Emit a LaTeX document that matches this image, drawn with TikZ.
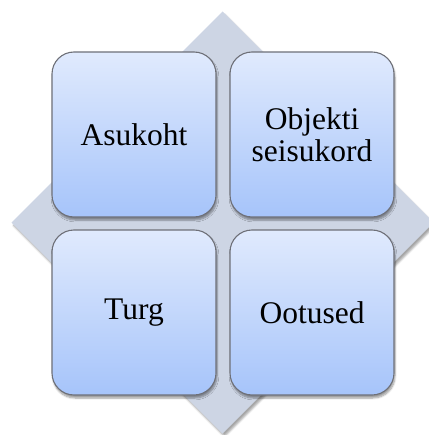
\documentclass[tikz,border=0pt]{standalone}
\usepackage{fontspec}
\setmainfont{Liberation Serif}
\usetikzlibrary{shadows.blur}
\definecolor{diamondfill}{HTML}{CDD5E4}
\definecolor{tiletop}{HTML}{E0EAFD}
\definecolor{tilebottom}{HTML}{A6C4FA}
\definecolor{tileedge}{HTML}{6E7078}
\tikzset{
  tile/.style={rectangle, rounded corners=22pt, minimum width=164pt, minimum height=165pt,
    top color=tiletop, bottom color=tilebottom, draw=tileedge, line width=1.1pt,
    blur shadow={shadow xshift=1pt, shadow yshift=-3pt, shadow blur steps=6, shadow opacity=40},
    font=\fontsize{31.5}{32}\selectfont, align=center, inner sep=0pt},
}
\begin{document}
\begin{tikzpicture}[x=1pt, y=-1pt]
  \useasboundingbox (0,0) rectangle (428,435);
  % background diamond with a soft shadow
  \fill[diamondfill, blur shadow={shadow xshift=2pt, shadow yshift=-3pt, shadow blur steps=6, shadow opacity=35}]
    (222.5,11.5) -- (433.5,222.5) -- (222.5,433.5) -- (11.5,222.5) -- cycle;
  % the four tiles
  \node[tile] (loc) at (134,134.5) {Asukoht};
  \node[tile] (cond) at (312,134.5) {Objekti\\seisukord};
  \node[tile] (mkt) at (134,312.5) {Turg};
  \node[tile] (exp) at (312,312.5) {Ootused};
\end{tikzpicture}
\end{document}
